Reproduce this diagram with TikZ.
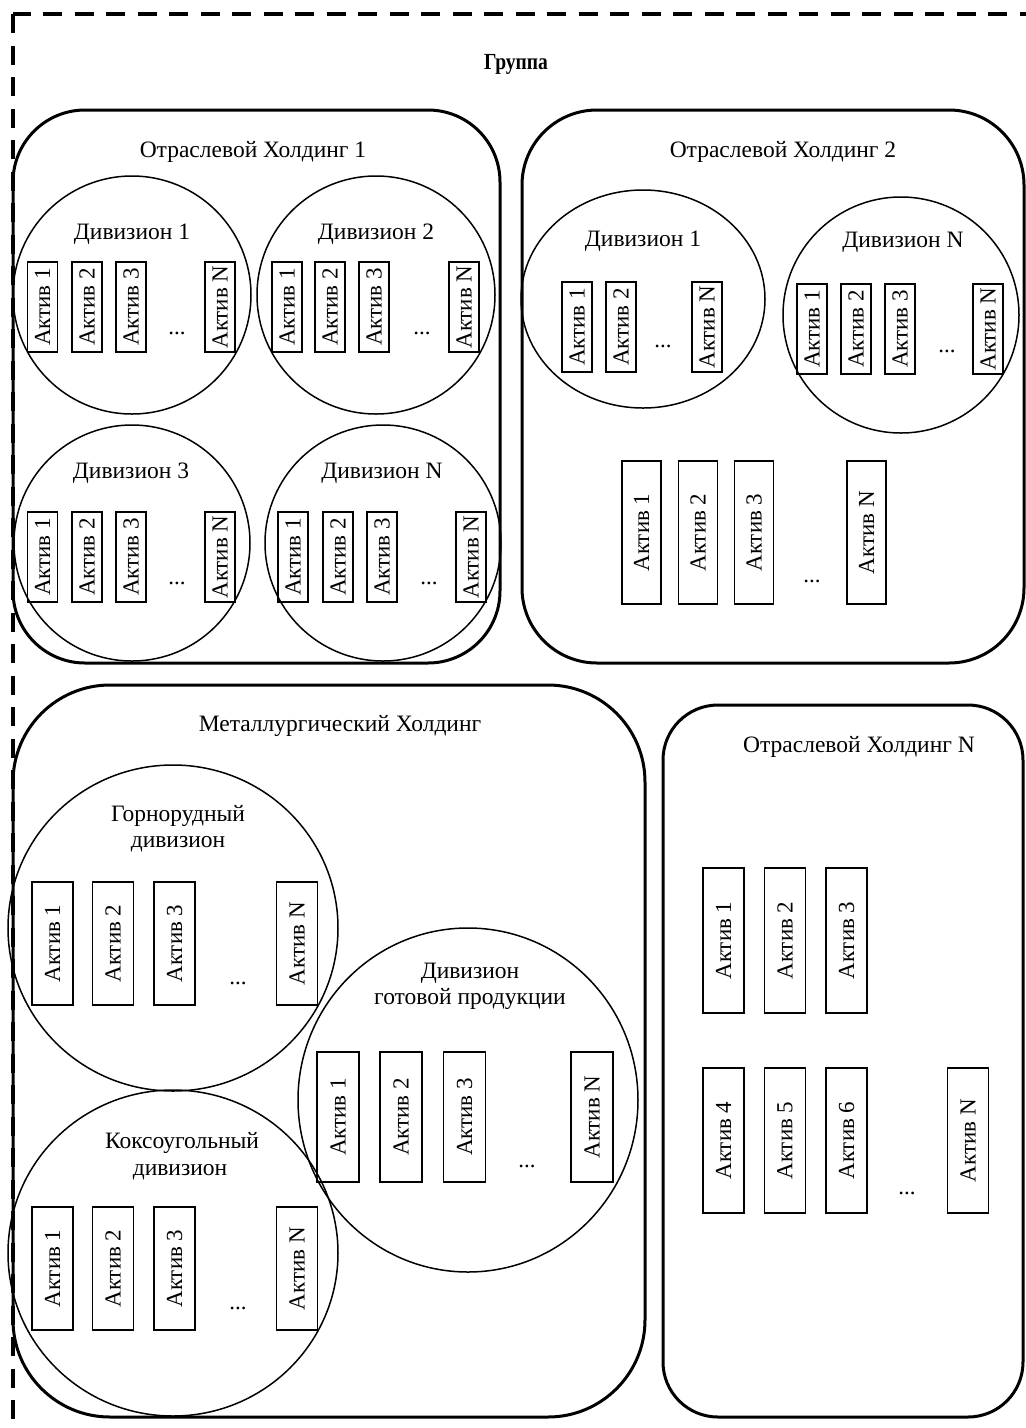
\documentclass[tikz,border=0pt]{standalone}
\usepackage{fontspec}
\setmainfont{Liberation Serif}
\newcommand\lblfont{\fontsize{23.5}{27}\selectfont}
\newcommand\aktfont{\fontsize{23}{27}\selectfont}
\begin{document}
\begin{tikzpicture}[x=1pt,y=-1pt,
  hold/.style={draw, line width=3pt},
  div/.style={draw, line width=1.5pt},
  akt/.style={draw, line width=1.3pt, rotate=90, inner sep=0pt, font=\aktfont},
  aks/.style={akt, minimum width=90pt, minimum height=30pt},
  akl/.style={akt, minimum width=143pt, minimum height=39pt},
  akm/.style={akt, minimum width=123pt, minimum height=41pt},
  akg/.style={akt, minimum width=130pt, minimum height=42pt},
  akn/.style={akt, minimum width=145pt, minimum height=41pt},
  lbl/.style={anchor=base, inner sep=0pt, font=\lblfont},
  dots/.style={anchor=base, inner sep=0pt, font=\aktfont},
]
\useasboundingbox (0,0) rectangle (1026,1428);
\clip (0,0) rectangle (1026,1428);
% outer group frame
\draw[line width=4.5pt, dash pattern=on 19pt off 12.5pt] (13,14) rectangle (1070,1470);
\node[anchor=base, inner sep=0pt] (grp) at (516,69) {\scalebox{0.85}[1]{\fontsize{23}{27}\selectfont\bfseries Группа}};

% ---------- Holding 1 ----------
\draw[hold, rounded corners=72pt] (13,110) rectangle (500,663);
\node[lbl] (h1) at (253,157) {Отраслевой Холдинг 1};
% Division 1
\draw[div] (132,295) circle[radius=119];
\node[lbl] (h1d1) at (132,239) {Дивизион 1};
\foreach \x/\t [count=\i] in {42.5/1,87/2,131/3,220/N}
  \node[aks] (h1d1a\i) at (\x,307) {Актив \t};
\node[dots] (h1d1e) at (177,334) {...};
% Division 2
\draw[div] (376,295) circle[radius=119];
\node[lbl] (h1d2) at (376,239) {Дивизион 2};
\foreach \x/\t [count=\i] in {287/1,330/2,374/3,464/N}
  \node[aks] (h1d2a\i) at (\x,307) {Актив \t};
\node[dots] (h1d2e) at (422,334) {...};
% Division 3
\draw[div] (132,543) circle[radius=118];
\node[lbl] (h1d3) at (131,478) {Дивизион 3};
\foreach \x/\t [count=\i] in {42.5/1,87/2,131/3,220/N}
  \node[aks] (h1d3a\i) at (\x,557) {Актив \t};
\node[dots] (h1d3e) at (177,584) {...};
% Division N
\draw[div] (383,543) circle[radius=118];
\node[lbl] (h1dn) at (382,478) {Дивизион N};
\foreach \x/\t [count=\i] in {293/1,338/2,382/3,471/N}
  \node[aks] (h1dna\i) at (\x,557) {Актив \t};
\node[dots] (h1dne) at (429,584) {...};

% ---------- Holding 2 ----------
\draw[hold, rounded corners=75pt] (522,110) rectangle (1024,663);
\node[lbl] (h2) at (783,157) {Отраслевой Холдинг 2};
\draw[div] (643,299) ellipse[x radius=122, y radius=109];
\node[lbl] (h2d1) at (643,246) {Дивизион 1};
\foreach \x/\t [count=\i] in {577/1,621/2,707/N}
  \node[aks] (h2d1a\i) at (\x,327) {Актив \t};
\node[dots] (h2d1e) at (663,347) {...};
\draw[div] (901,315) circle[radius=118];
\node[lbl] (h2dn) at (903,247) {Дивизион N};
\foreach \x/\t [count=\i] in {812/1,856/2,900/3,988/N}
  \node[aks] (h2dna\i) at (\x,329) {Актив \t};
\node[dots] (h2dne) at (947,352) {...};
\foreach \x/\t [count=\i] in {641.5/1,698/2,754/3,866.5/N}
  \node[akl] (h2a\i) at (\x,532.5) {Актив \t};
\node[dots] (h2e) at (812,582) {...};

% ---------- Metallurgical holding ----------
\draw[hold, rounded corners=97pt] (13,685) rectangle (645,1417);
\node[lbl] (mh) at (340,731) {Металлургический Холдинг};
% mining
\draw[div] (173,928) ellipse[x radius=165, y radius=163];
\node[lbl] (gor1) at (178,821) {Горнорудный};
\node[lbl] (gor2) at (178,847) {дивизион};
\foreach \x/\t [count=\i] in {52.5/1,113/2,174.5/3,297/N}
  \node[akm] (gora\i) at (\x,943.5) {Актив \t};
\node[dots] (gore) at (238,984) {...};
% coking coal
\draw[div] (173,1253) ellipse[x radius=165, y radius=163];
\node[lbl] (kok1) at (182,1148) {Коксоугольный};
\node[lbl] (kok2) at (180,1175) {дивизион};
\foreach \x/\t [count=\i] in {52.5/1,113/2,174.5/3,297/N}
  \node[akm] (koka\i) at (\x,1268.5) {Актив \t};
\node[dots] (koke) at (238,1309) {...};
% finished products
\draw[div] (468,1100) ellipse[x radius=170, y radius=172];
\node[lbl] (got1) at (470,978) {Дивизион};
\node[lbl] (got2) at (470,1004) {готовой продукции};
\foreach \x/\t [count=\i] in {338/1,401/2,464.5/3,592/N}
  \node[akg] (gota\i) at (\x,1117) {Актив \t};
\node[dots] (gote) at (527,1167) {...};

% ---------- Holding N ----------
\draw[hold, rounded corners=55pt] (663,705) rectangle (1023,1417);
\node[lbl] (hn) at (859,752) {Отраслевой Холдинг N};
\foreach \x/\t [count=\i] in {723.5/1,785/2,846.5/3}
  \node[akn] (hnr1a\i) at (\x,940.5) {Актив \t};
\foreach \x/\t [count=\i] in {723.5/4,785/5,846.5/6,968/N}
  \node[akn] (hnr2a\i) at (\x,1140.5) {Актив \t};
\node[dots] (hne) at (907,1194) {...};
\end{tikzpicture}
\end{document}
